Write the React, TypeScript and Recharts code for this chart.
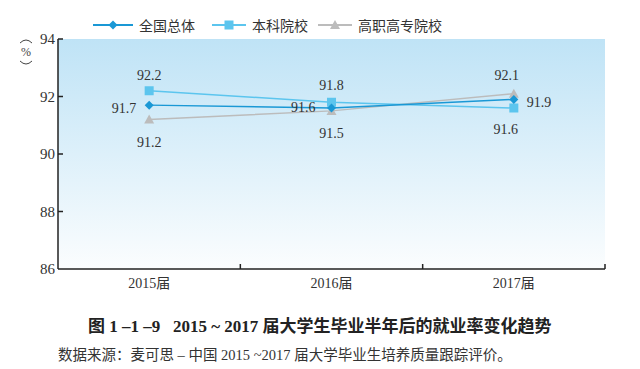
import React from "react";
import { LineChart, Line, XAxis, YAxis, CartesianGrid, LabelList } from "recharts";

const categories = ["2015届", "2016届", "2017届"];
const totalValues = [91.7, 91.6, 91.9];
const undergradValues = [92.2, 91.8, 91.6];
const vocationalValues = [91.2, 91.5, 92.1];
const yTicks = [86, 88, 90, 92, 94];
const xTicks = [0, 0.5, 1, 1.5, 2, 2.5, 3];

const SERIES = [
  { key: "total", name: "全国总体", color: "#1a98d5", shape: "diamond" },
  { key: "undergrad", name: "本科院校", color: "#5cc5ee", shape: "square" },
  { key: "vocational", name: "高职高专院校", color: "#bcbcbc", shape: "triangle" },
];

// label offsets from each point: [dx, dy, anchor]
const LABEL_PLACE: Record<string, [number, number, string][]> = {
  total: [[-13, 3, "end"], [-16, -1, "end"], [13, 3, "start"]],
  undergrad: [[0, -16, "middle"], [0, -17, "middle"], [-8, 21, "middle"]],
  vocational: [[0, 22, "middle"], [0, 22, "middle"], [-7, -19, "middle"]],
};

const data = categories.map((c, i) => ({
  x: i + 0.5,
  name: c,
  total: totalValues[i],
  undergrad: undergradValues[i],
  vocational: vocationalValues[i],
}));

const NUM_FONT = "'Liberation Serif', 'Noto Sans CJK SC', serif";

function Marker({ cx, cy, shape, color }: any) {
  if (cx == null || cy == null) return null;
  if (shape === "diamond") {
    return <path d={`M${cx},${cy - 4.5}L${cx + 4.5},${cy}L${cx},${cy + 4.5}L${cx - 4.5},${cy}Z`} fill={color} />;
  }
  if (shape === "square") {
    return <rect x={cx - 4.5} y={cy - 4.5} width={9} height={9} fill={color} />;
  }
  return <path d={`M${cx},${cy - 5}L${cx + 5},${cy + 4}L${cx - 5},${cy + 4}Z`} fill={color} />;
}

function YTick({ x, y, payload }: any) {
  return (
    <g>
      {payload.value !== 86 && <line x1={x} x2={x + 5} y1={y} y2={y} stroke="#222" strokeWidth={1.5} />}
      <text x={x - 3} y={y + 5} textAnchor="end" fontSize={15} fill="#333" fontFamily={NUM_FONT}>
        {payload.value}
      </text>
    </g>
  );
}

function XTick({ x, y, payload }: any) {
  const v = payload.value;
  if (Number.isInteger(v)) {
    if (v === 0) return null;
    return <line x1={x} x2={x} y1={y} y2={y - 5} stroke="#222" strokeWidth={1.5} />;
  }
  return (
    <text x={x} y={y + 19} textAnchor="middle" fontSize={14} fill="#333" fontFamily={NUM_FONT}>
      {categories[Math.floor(v)]}
    </text>
  );
}

function makeLabel(key: string) {
  return (props: any) => {
    const { x, y, value, index } = props;
    const [dx, dy, anchor] = LABEL_PLACE[key][index];
    return (
      <text x={x + dx} y={y + dy + 5} textAnchor={anchor as any} fontSize={14} fill="#333" fontFamily={NUM_FONT}>
        {value}
      </text>
    );
  };
}

function ChartLegend() {
  return (
    <div style={{ position: "absolute", left: 93, top: 16, display: "flex", alignItems: "center", fontFamily: "'Noto Sans CJK SC', sans-serif", fontSize: 14, lineHeight: "18px", color: "#333" }}>
      {SERIES.map((s, i) => (
        <div key={s.key} style={{ display: "flex", alignItems: "center", marginRight: i === 0 ? 17 : 10 }}>
          <svg width={i === 0 ? 40 : 34} height={12} style={{ marginRight: 6 }}>
            <line x1={0} x2={i === 0 ? 40 : 34} y1={6} y2={6} stroke={s.color} strokeWidth={2} />
            <Marker cx={i === 0 ? 20 : 17} cy={6} shape={s.shape} color={s.color} />
          </svg>
          <span>{s.name}</span>
        </div>
      ))}
    </div>
  );
}

export default function App() {
  return (
    <div style={{ position: "absolute", left: 0, top: 0, width: 640, height: 369, background: "#fff" }}>
      <LineChart width={640} height={300} data={data} margin={{ top: 39, right: 35, bottom: 0, left: 0 }}>
        <defs>
          <linearGradient id="plotBg" x1="0" y1="0" x2="0" y2="1">
            <stop offset="0%" stopColor="#bfe3f6" />
            <stop offset="100%" stopColor="#fbfdfe" />
          </linearGradient>
        </defs>
        <CartesianGrid fill="url(#plotBg)" horizontal={false} vertical={false} />
        <XAxis
          type="number"
          dataKey="x"
          domain={[0, 3]}
          ticks={xTicks}
          interval={0}
          tickSize={0}
          tickMargin={0}
          height={31}
          tick={<XTick />}
          tickLine={false}
          axisLine={{ stroke: "#222", strokeWidth: 1.5 }}
        />
        <YAxis
          domain={[86, 94]}
          ticks={yTicks}
          interval={0}
          width={58}
          tickSize={0}
          tickMargin={0}
          tick={<YTick />}
          tickLine={false}
          axisLine={{ stroke: "#222", strokeWidth: 1.5 }}
        />
        {SERIES.slice().reverse().map((s) => (
          <Line
            key={s.key}
            dataKey={s.key}
            name={s.name}
            stroke={s.color}
            strokeWidth={1.5}
            isAnimationActive={false}
            dot={(p: any) => <Marker key={`${s.key}-${p.index}`} cx={p.cx} cy={p.cy} shape={s.shape} color={s.color} />}
            activeDot={false}
          >
            <LabelList dataKey={s.key} content={makeLabel(s.key)} />
          </Line>
        ))}
      </LineChart>
      <ChartLegend />
      <svg style={{ position: "absolute", left: 14, top: 34 }} width={24} height={36}>
        <path d="M6,9 Q12,3 18,9" fill="none" stroke="#444" strokeWidth={1} />
        <text x={12} y={22} textAnchor="middle" fontSize={12} fill="#444" fontFamily={NUM_FONT}>%</text>
        <path d="M6,27 Q12,33 18,27" fill="none" stroke="#444" strokeWidth={1} />
      </svg>
      <div style={{ position: "absolute", left: 88, top: 316, fontFamily: NUM_FONT, fontWeight: "bold", fontSize: 17, lineHeight: "22px", color: "#222", whiteSpace: "pre" }}>
        {"图 1 –1 –9   2015 ~ 2017 届大学生毕业半年后的就业率变化趋势"}
      </div>
      <div style={{ position: "absolute", left: 58, top: 345, fontFamily: NUM_FONT, fontSize: 14.5, lineHeight: "20px", color: "#333", whiteSpace: "pre" }}>
        {"数据来源：麦可思 – 中国 2015 ~2017 届大学毕业生培养质量跟踪评价。"}
      </div>
    </div>
  );
}
